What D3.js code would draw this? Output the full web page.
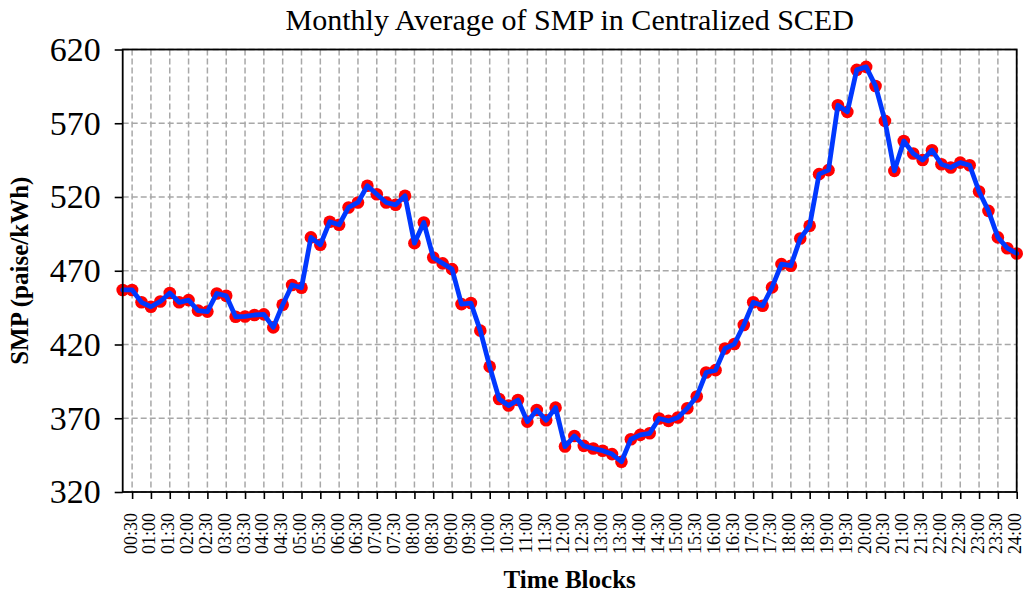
<!DOCTYPE html>
<html>
<head>
<meta charset="utf-8">
<script src="https://cdn.jsdelivr.net/npm/d3@7"></script>
<style>
  html, body { margin: 0; padding: 0; background: #ffffff; }
  svg { display: block; }
  text { font-family: "Liberation Serif", "Times New Roman", serif; fill: #000; }
</style>
</head>
<body>
<script>
// ---- Data ----
const blocks = d3.range(1, 97); // time block index 1..96 (15-minute blocks)
const smpValues = [
  457, 457, 448.6, 445.6, 449.2, 454.9, 448.6, 450.1, 443, 442.3,
  454.6, 453, 438.8, 439, 440, 440.4, 431.6, 447, 460.3, 458.5,
  492.6, 487.6, 503.2, 501.2, 512.9, 516.3, 527.6, 521.9, 516.3, 514.7,
  520.8, 488.7, 502.7, 479, 475, 471.1, 447.4, 448.1, 429.4, 405,
  383.1, 378.6, 382.4, 367.7, 375.6, 368.6, 377.2, 350.8, 358, 351.3,
  349.5, 348, 345.7, 340.5, 355.8, 358.7, 359.8, 369.8, 368.2, 370.5,
  376.8, 384.7, 401, 402.6, 417.3, 420.3, 433.2, 448.6, 446.3, 458.7,
  474.5, 473.4, 491.9, 500.5, 535.5, 538.2, 582.2, 577.7, 606.2, 608.2,
  595.3, 571.6, 537.7, 558, 549.5, 545.1, 551.7, 542.2, 540, 543.3,
  541.5, 523.7, 510.6, 492.6, 485.3, 481.7
];
const xTickBlocks = [2,4,6,8,10,12,14,16,18,20,22,24,26,28,30,32,34,36,38,40,42,44,46,48,
                     50,52,54,56,58,60,62,64,66,68,70,72,74,76,78,80,82,84,86,88,90,92,94,96];
const xTickLabels = ["00:30","01:00","01:30","02:00","02:30","03:00","03:30","04:00","04:30","05:00",
  "05:30","06:00","06:30","07:00","07:30","08:00","08:30","09:00","09:30","10:00",
  "10:30","11:00","11:30","12:00","12:30","13:00","13:30","14:00","14:30","15:00",
  "15:30","16:00","16:30","17:00","17:30","18:00","18:30","19:00","19:30","20:00",
  "20:30","21:00","21:30","22:00","22:30","23:00","23:30","24:00"];
const yTicks = [320, 370, 420, 470, 520, 570, 620];
const titleText = "Monthly Average of SMP in Centralized SCED";
const xLabelText = "Time Blocks";
const yLabelText = "SMP (paise/kWh)";

// ---- Layout ----
const W = 1025, H = 596;
const plot = { left: 122.7, right: 1016.7, top: 49.5, bottom: 492 };

const svg = d3.select("body").append("svg").attr("width", W).attr("height", H);

const x = d3.scaleLinear().domain([1, 96]).range([plot.left, plot.right]);
const y = d3.scaleLinear().domain([320, 620]).range([plot.bottom, plot.top]);

// Grid
const grid = svg.append("g");
grid.selectAll("line.vg").data(xTickBlocks).enter().append("line")
  .attr("x1", d => x(d)).attr("x2", d => x(d))
  .attr("y1", plot.top).attr("y2", plot.bottom)
  .attr("stroke", "#a8a8a8").attr("stroke-width", 1.5).attr("stroke-dasharray", "6,3");
grid.selectAll("line.hg").data(yTicks).enter().append("line")
  .attr("x1", plot.left).attr("x2", plot.right)
  .attr("y1", d => y(d)).attr("y2", d => y(d))
  .attr("stroke", "#a8a8a8").attr("stroke-width", 1.5).attr("stroke-dasharray", "6,3");

// Markers
svg.append("g").selectAll("circle").data(blocks).enter().append("circle")
  .attr("cx", (d) => x(d)).attr("cy", (d, i) => y(smpValues[i]))
  .attr("r", 6.3).attr("fill", "#ff0000").attr("stroke", "none");

// Line
const line = d3.line().x(d => x(d)).y((d, i) => y(smpValues[i]));
svg.append("path").datum(blocks)
  .attr("d", line).attr("fill", "none")
  .attr("stroke", "#0038ff").attr("stroke-width", 4.8)
  .attr("stroke-linejoin", "round").attr("stroke-linecap", "round");

// Frame
svg.append("rect")
  .attr("x", plot.left).attr("y", plot.top)
  .attr("width", plot.right - plot.left).attr("height", plot.bottom - plot.top)
  .attr("fill", "none").attr("stroke", "#000").attr("stroke-width", 1.8);

// X axis
const xAxis = d3.axisBottom(x).tickValues(xTickBlocks)
  .tickFormat((d, i) => xTickLabels[i]).tickSize(7).tickPadding(4);
const gx = svg.append("g").attr("transform", `translate(0,${plot.bottom})`).call(xAxis);
gx.select(".domain").remove();
gx.selectAll(".tick line").attr("stroke", "#000").attr("stroke-width", 1.6);
gx.selectAll(".tick text")
  .attr("font-size", 18)
  .attr("font-family", "Liberation Serif")
  .attr("transform", "rotate(-90)")
  .attr("x", -21).attr("y", 0).attr("dy", "0.22em")
  .style("text-anchor", "end");

// Y axis
const yAxis = d3.axisLeft(y).tickValues(yTicks).tickSize(8).tickPadding(14);
const gy = svg.append("g").attr("transform", `translate(${plot.left},0)`).call(yAxis);
gy.select(".domain").remove();
gy.selectAll(".tick line").attr("stroke", "#000").attr("stroke-width", 1.6);
gy.selectAll(".tick text").attr("font-size", 34).attr("font-family", "Liberation Serif");

// Title and axis labels
svg.append("text").attr("x", (plot.left + plot.right) / 2).attr("y", 30)
  .attr("text-anchor", "middle").attr("font-size", 30).text(titleText);
svg.append("text").attr("x", (plot.left + plot.right) / 2).attr("y", 588)
  .attr("text-anchor", "middle").attr("font-size", 25).attr("font-weight", "bold").text(xLabelText);
svg.append("text").attr("transform", `translate(28,${(plot.top + plot.bottom) / 2}) rotate(-90)`)
  .attr("text-anchor", "middle").attr("font-size", 25).attr("font-weight", "bold").text(yLabelText);
</script>
</body>
</html>
